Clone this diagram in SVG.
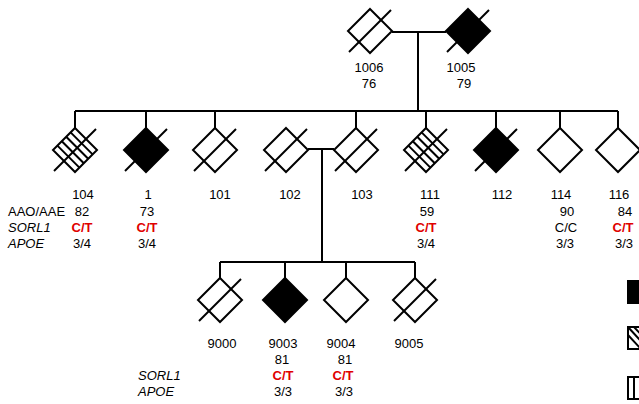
<svg xmlns="http://www.w3.org/2000/svg" width="639" height="404" viewBox="0 0 639 404">
<style>
text{font-family:"Liberation Sans",Arial,sans-serif;font-size:13px;fill:#000;text-anchor:middle}
.l{text-anchor:start}
.i{font-style:italic}
.r{fill:#e00000;font-weight:bold}
.s{fill:none;stroke:#000;stroke-width:2}
.d{fill:#fff;stroke:#000;stroke-width:2}
.f{fill:#000;stroke:#000;stroke-width:2}
</style>
<defs>
<path id="dia" d="M0,-22 L22,0 L0,22 L-22,0 Z"/>
<path id="sl" d="M-21,21 L21,-21"/>
<path id="hatch" d="M-4.4,-17.6 L17.6,4.4 M-8.8,-13.2 L13.2,8.8 M-13.2,-8.8 L8.8,13.2 M-17.6,-4.4 L4.4,17.6"/>
</defs>
<g id="connectors" class="s">
<path d="M392,32 H446 M418,32 V111"/>
<path d="M75,111 H618"/>
<path d="M75,111 V128 M146,111 V128 M215,111 V128 M356,111 V128 M426,111 V128 M496,111 V128 M560,111 V128 M618,111 V128"/>
<path d="M308,149 H334 M322,149 V262"/>
<path d="M220,262 H415 M220,262 V278 M285,262 V278 M346,262 V278 M415,262 V278"/>
</g>
<g id="n1006" transform="translate(370,31)"><use href="#dia" class="d"/><use href="#sl" class="s"/></g>
<g id="n1005" transform="translate(468,31)"><use href="#dia" class="f"/><use href="#sl" class="s"/></g>
<g id="n104" transform="translate(75,150)"><use href="#dia" class="d"/><use href="#hatch" class="s"/><use href="#sl" class="s"/></g>
<g id="n1" transform="translate(146,150)"><use href="#dia" class="f"/><use href="#sl" class="s"/></g>
<g id="n101" transform="translate(215,150)"><use href="#dia" class="d"/><use href="#sl" class="s"/></g>
<g id="n102" transform="translate(286,150)"><use href="#dia" class="d"/><use href="#sl" class="s"/></g>
<g id="n103" transform="translate(356,150)"><use href="#dia" class="d"/><use href="#sl" class="s"/></g>
<g id="n111" transform="translate(426,150)"><use href="#dia" class="d"/><use href="#hatch" class="s"/><use href="#sl" class="s"/></g>
<g id="n112" transform="translate(496,150)"><use href="#dia" class="f"/><use href="#sl" class="s"/></g>
<g id="n114" transform="translate(560,150)"><use href="#dia" class="d"/></g>
<g id="n116" transform="translate(618,150)"><use href="#dia" class="d"/></g>
<g id="n9000" transform="translate(220,300)"><use href="#dia" class="d"/><use href="#sl" class="s"/></g>
<g id="n9003" transform="translate(285,300)"><use href="#dia" class="f"/></g>
<g id="n9004" transform="translate(346,300)"><use href="#dia" class="d"/></g>
<g id="n9005" transform="translate(415,300)"><use href="#dia" class="d"/><use href="#sl" class="s"/></g>
<g id="labels-top">
<text x="369" y="72">1006</text><text x="369" y="88">76</text>
<text x="461" y="72">1005</text><text x="464" y="88">79</text>
</g>
<g id="labels-gen2">
<text class="l" x="8" y="216">AAO/AAE</text>
<text class="l i" x="8" y="232">SORL1</text>
<text class="l i" x="8" y="248">APOE</text>
<text x="83" y="199">104</text><text x="82" y="216">82</text><text class="r" x="82" y="232">C/T</text><text x="82" y="248">3/4</text>
<text x="148" y="199">1</text><text x="147" y="216">73</text><text class="r" x="147" y="232">C/T</text><text x="147" y="248">3/4</text>
<text x="220" y="199">101</text>
<text x="290" y="199">102</text>
<text x="362" y="199">103</text>
<text x="430" y="199">111</text><text x="427" y="216">59</text><text class="r" x="426" y="232">C/T</text><text x="426" y="248">3/4</text>
<text x="502" y="199">112</text>
<text x="561" y="199">114</text><text x="567" y="216">90</text><text x="566" y="232">C/C</text><text x="565" y="248">3/3</text>
<text x="619" y="199">116</text><text x="625" y="216">84</text><text class="r" x="623" y="232">C/T</text><text x="624" y="248">3/3</text>
</g>
<g id="labels-gen3">
<text class="l i" x="138" y="380">SORL1</text>
<text class="l i" x="138" y="396">APOE</text>
<text x="222" y="348">9000</text>
<text x="283" y="348">9003</text><text x="282" y="364">81</text><text class="r" x="283" y="380">C/T</text><text x="283" y="396">3/3</text>
<text x="341" y="348">9004</text><text x="345" y="364">81</text><text class="r" x="343" y="380">C/T</text><text x="344" y="396">3/3</text>
<text x="409" y="348">9005</text>
</g>
<g id="legend">
<rect x="628" y="281" width="20" height="22" class="f"/>
<rect x="628" y="327" width="20" height="22" class="d"/>
<path d="M628,327 L648,349 M628,335 L641,349 M634,327 L648,342" class="s" stroke-width="3"/>
<rect x="628" y="377" width="20" height="22" class="d"/>
<path d="M634,377 V399" class="s"/>
</g>
</svg>
